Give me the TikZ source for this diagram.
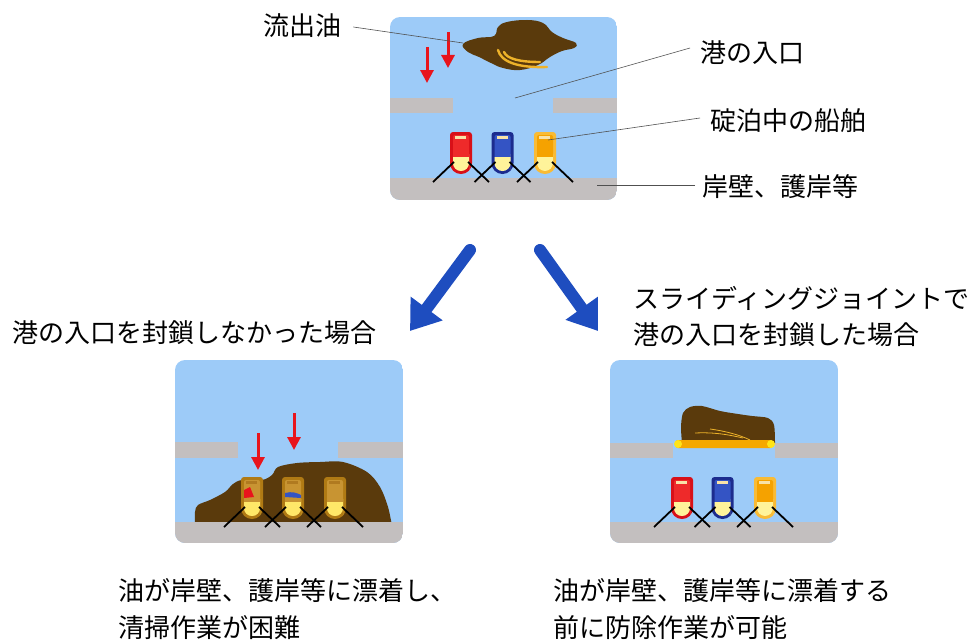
\documentclass[tikz,border=0pt]{standalone}
\usepackage{fontspec}
\setmainfont{Noto Sans CJK JP}
\usetikzlibrary{arrows.meta}

\definecolor{sky}{HTML}{9DCBF8}
\definecolor{wallgray}{HTML}{C3BFBF}
\definecolor{oil}{HTML}{5A3A0C}
\definecolor{stripe}{HTML}{EDB22A}
\definecolor{alarm}{HTML}{E8141C}
\definecolor{flow}{HTML}{1E4DBF}
\definecolor{leader}{HTML}{505050}
\definecolor{redhull}{HTML}{D81018}
\definecolor{reddeck}{HTML}{EE2A2A}
\definecolor{bluehull}{HTML}{1C2C8E}
\definecolor{bluedeck}{HTML}{3454C4}
\definecolor{orangehull}{HTML}{F9BB35}
\definecolor{orangedeck}{HTML}{F5A200}
\definecolor{bridge}{HTML}{F8E2A8}
\definecolor{bow}{HTML}{FFF39A}
\definecolor{oilhull}{HTML}{B07A14}
\definecolor{oildeck}{HTML}{C89432}
\definecolor{oilbridge}{HTML}{B07A20}
\definecolor{oilbow}{HTML}{FFE868}
\definecolor{boomorange}{HTML}{F5A800}
\definecolor{boomend}{HTML}{FFE418}

\tikzset{
  lbl/.style={anchor=west, inner sep=0pt, font=\fontsize{26}{30}\selectfont},
  leaderline/.style={draw=leader, line width=0.6pt},
  droparrow/.style={draw=alarm, line width=3pt, -{Triangle[width=13pt,length=13pt]}},
  flowarrow/.style={draw=flow, line width=12pt, line cap=round, -{Triangle[width=38pt,length=28pt]}},
  mooring/.style={draw=black, line width=1.8pt},
  panelclip/.style={rounded corners=10pt},
  % a moored ship seen from above: hull, deck, bridge, bow colours
  pics/ship/.style n args={4}{code={
    \fill[#1, rounded corners=3pt] (-11,20) -- (-11,0) -- (11,0) -- (11,20)
      [rounded corners=10.9pt] -- (11,42) -- (-11,42) -- cycle;
    \fill[#2, rounded corners=2pt] (-8,20) -- (-8,3) -- (8,3) -- (8,20)
      [rounded corners=7.9pt] -- (8,39) -- (-8,39) -- cycle;
    \fill[#4, rounded corners=7.9pt] (-8,30) -- (-8,39) -- (8,39) -- (8,30)
      [sharp corners] -- (8,25) -- (-8,25) -- cycle;
    \fill[#3] (-6,4) rectangle (5,7);
    \draw[mooring] (-7,30) -- (-28,50);
    \draw[mooring] (7,30) -- (28,50);
  }}
}

\begin{document}
\begin{tikzpicture}[x=1pt, y=-1pt]
\useasboundingbox (0,0) rectangle (979,642);

% ---------- top harbour ----------
\begin{scope}
  \clip[panelclip] (390,17) rectangle (617,200);
  \fill[sky] (390,17) rectangle (617,200);
  \fill[wallgray] (390,178) rectangle (617,200);
  \fill[wallgray] (390,98) rectangle (453,113);
  \fill[wallgray] (553,98) rectangle (617,113);
\end{scope}
\fill[oil] plot[smooth cycle, tension=0.7] coordinates {
  (463,44) (478,38) (494,36) (498,27) (507,22) (527,20) (543,23) (552,32)
  (563,38) (576,43) (574,48) (562,51) (550,57) (538,65) (520,70) (503,68)
  (491,63) (479,57) (468,52)};
\draw[stripe, line width=2.4pt, line cap=round] (498,50) .. controls (501,62) and (518,68) .. (547,67);
\draw[stripe, line width=2.4pt, line cap=round] (504,52) .. controls (507,59) and (520,62) .. (540,62);
\coordinate (dropA1) at (448,32); \coordinate (dropA2) at (448,68);
\coordinate (dropB1) at (427,47); \coordinate (dropB2) at (427,83);
\draw[droparrow] (dropA1) -- (dropA2);
\draw[droparrow] (dropB1) -- (dropB2);
\pic at (461,132) {ship={redhull}{reddeck}{bridge}{bow}};
\pic at (502.5,132) {ship={bluehull}{bluedeck}{bridge}{bow}};
\pic at (545,132) {ship={orangehull}{orangedeck}{bridge}{bow}};

% labels of the top harbour
\node[lbl] (lblOil) at (263,26) {流出油};
\node[lbl] (lblMouth) at (700,53) {港の入口};
\node[lbl] (lblShips) at (710,121) {碇泊中の船舶};
\node[lbl] (lblQuay) at (702,187) {岸壁、護岸等};
\coordinate (ptOil) at (463,43);
\coordinate (ptMouth) at (515,98);
\coordinate (ptShips) at (548,140);
\coordinate (ptQuay) at (597,185);
\draw[leaderline] ([xshift=12pt,yshift=-1pt]lblOil.east) -- (ptOil);
\draw[leaderline] ([xshift=-10pt,yshift=5pt]lblMouth.west) -- (ptMouth);
\draw[leaderline] ([xshift=-10pt,yshift=3pt]lblShips.west) -- (ptShips);
\draw[leaderline] ([xshift=-7pt,yshift=2pt]lblQuay.west) -- (ptQuay);

% ---------- the two outcomes ----------
\coordinate (splitL) at (470,250); \coordinate (caseL) at (410,331);
\coordinate (splitR) at (540,250); \coordinate (caseR) at (598,331);
\draw[flowarrow] (splitL) -- (caseL);
\draw[flowarrow] (splitR) -- (caseR);

\node[lbl] (capOpen) at (12,333) {港の入口を封鎖しなかった場合};
\node[lbl] (capShut1) at (633,298) {スライディングジョイントで};
\node[lbl] (capShut2) at (633,335) {港の入口を封鎖した場合};

% ---------- entrance left open ----------
\begin{scope}
  \clip[panelclip] (175,360) rectangle (403,543);
  \fill[sky] (175,360) rectangle (403,543);
  \fill[wallgray] (175,442) rectangle (238,458);
  \fill[wallgray] (338,442) rectangle (403,458);
  \fill[oil] plot[smooth, tension=0.55] coordinates {
    (195,526) (195,512) (198,505) (210,500) (225,492) (233,484) (242,480)
    (262,480) (272,475) (278,467) (297,463) (320,462) (343,462) (367,472)
    (380,487) (388,507) (392,526)} -- cycle;
  \fill[wallgray] (175,522) rectangle (403,543);
\end{scope}
\coordinate (dropC1) at (258,433); \coordinate (dropC2) at (258,470);
\coordinate (dropD1) at (294,413); \coordinate (dropD2) at (294,450);
\draw[droparrow] (dropC1) -- (dropC2);
\draw[droparrow] (dropD1) -- (dropD2);
\pic at (252,477) {ship={oilhull}{oildeck}{oilbridge}{oilbow}};
\pic at (293,477) {ship={oilhull}{oildeck}{oilbridge}{oilbow}};
\pic at (335,477) {ship={oilhull}{oildeck}{oilbridge}{oilbow}};
\fill[alarm] (244,490) -- (250,487) -- (254,497) -- (244,498) -- cycle;
\fill[bluedeck] (285,493) .. controls (292,491) and (297,493) .. (301,495) -- (301,498) -- (285,497) -- cycle;

% ---------- entrance closed by the boom ----------
\begin{scope}
  \clip[panelclip] (610,360) rectangle (838,543);
  \fill[sky] (610,360) rectangle (838,543);
  \fill[wallgray] (610,522) rectangle (838,543);
  \fill[wallgray] (610,443) rectangle (673,458);
  \fill[wallgray] (775,443) rectangle (838,458);
\end{scope}
\fill[oil] plot[smooth, tension=0.5] coordinates {
  (775,443) (774,425) (768,418) (752,416) (738,414) (720,411) (702,406)
  (690,407) (683,413) (681,427) (682,443)} -- cycle;
\draw[stripe, line width=0.8pt] (695,433) .. controls (715,432) and (730,435) .. (743,438);
\draw[stripe, line width=0.8pt] (710,429) .. controls (725,431) and (740,435) .. (750,440);
\fill[boomorange, rounded corners=3pt] (675,440) rectangle (773,448);
\fill[boomend] (678,444) circle (4);
\fill[boomend] (771,444) circle (4);
\pic at (682,477) {ship={redhull}{reddeck}{bridge}{bow}};
\pic at (722.5,477) {ship={bluehull}{bluedeck}{bridge}{bow}};
\pic at (765,477) {ship={orangehull}{orangedeck}{bridge}{bow}};

% ---------- results ----------
\node[lbl] (resOpen1) at (118,591) {油が岸壁、護岸等に漂着し、};
\node[lbl] (resOpen2) at (118,628) {清掃作業が困難};
\node[lbl] (resShut1) at (553,591) {油が岸壁、護岸等に漂着する};
\node[lbl] (resShut2) at (553,628) {前に防除作業が可能};
\end{tikzpicture}
\end{document}
